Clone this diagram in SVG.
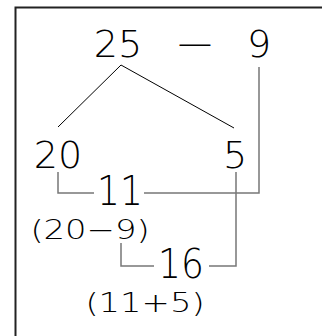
<svg xmlns="http://www.w3.org/2000/svg" width="322" height="336" viewBox="0 0 322 336">
<style>
text{font-family:"DejaVu Sans","Liberation Sans",sans-serif;font-weight:200;fill:#000;text-anchor:middle}
.big{font-size:38px}
.mid{font-size:40px}
.small{font-size:26px}
.k{stroke:#000;stroke-width:1;fill:none}
.g{stroke:#777;stroke-width:1.5;fill:none}
</style>
<rect x="0" y="0" width="322" height="336" fill="#fff"/>
<path d="M15.5,336 V7.5 H322" stroke="#222" stroke-width="2" fill="none"/>
<g id="connectors">
<line class="k" x1="121" y1="65" x2="58" y2="127"/>
<line class="k" x1="121" y1="65" x2="234" y2="128"/>
<path class="g" d="M259,67 V193 H144"/>
<path class="g" d="M58,172 V193 H94"/>
<path class="g" d="M236,172 V266 H209"/>
<path class="g" d="M121,243 V266 H154"/>
</g>
<g id="n25"><text class="big" x="118" y="57">25</text></g>
<g id="minus"><text class="big" x="195" y="57" transform="translate(195,0) scale(1.3,1) translate(-195,0)">−</text></g>
<g id="n9"><text class="big" x="259" y="57">9</text></g>
<g id="n20"><text class="big" x="58" y="168">20</text></g>
<g id="n5"><text class="big" x="235" y="168">5</text></g>
<g id="n11"><text class="mid" x="120" y="205" transform="translate(120,0) scale(0.9,1) translate(-120,0)">11</text></g>
<g id="l11"><text class="small" x="90" y="239" transform="translate(90,0) scale(1.3,1) translate(-90,0)">(20−9)</text></g>
<g id="n16"><text class="mid" x="181" y="278" transform="translate(181,0) scale(0.9,1) translate(-181,0)">16</text></g>
<g id="l16"><text class="small" x="145" y="312" transform="translate(145,0) scale(1.3,1) translate(-145,0)">(11+5)</text></g>
</svg>
